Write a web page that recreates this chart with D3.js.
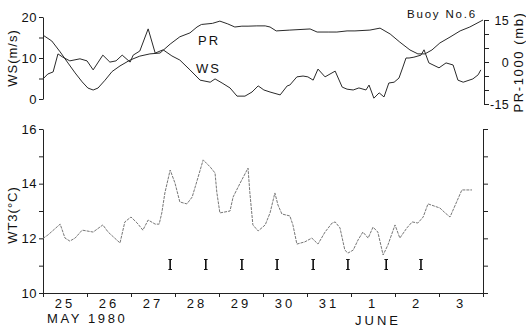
<!DOCTYPE html>
<html>
<head>
<meta charset="utf-8">
<script src="https://cdn.jsdelivr.net/npm/d3@7"></script>
<style>
  html, body { margin: 0; padding: 0; background: #fff; }
  svg { display: block; }
  text { font-family: "Liberation Sans", Arial, sans-serif; fill: #111; }
</style>
</head>
<body>
<svg id="chart" width="526" height="328"></svg>
<script>
// Time is measured in days from 25 May 1980, 00:00.
const dayLabels = ["25", "26", "27", "28", "29", "30", "31", "1", "2", "3"];
const dayTicks = [0, 1, 2, 3, 4, 5, 6, 7, 8, 9, 10];

// Wind speed WS (m/s)
const wsTime = [0, 0.11, 0.23, 0.34, 0.45, 0.61, 0.84, 1.0, 1.14, 1.36, 1.52, 1.66, 1.8, 1.98, 2.05, 2.2,
  2.39, 2.55, 2.73, 2.93, 3.11, 3.34, 3.57, 3.8, 3.91, 4.07, 4.25, 4.41, 4.59, 4.75, 4.89, 5.02, 5.16,
  5.39, 5.55, 5.61, 5.77, 5.91, 6.02, 6.14, 6.25, 6.41, 6.64, 6.8, 6.91, 7.05, 7.18, 7.34, 7.41, 7.52,
  7.64, 7.75, 7.86, 7.98, 8.09, 8.18, 8.25, 8.32, 8.43, 8.59, 8.66, 8.77, 9.0, 9.16, 9.32, 9.43, 9.55,
  9.77, 9.89, 9.95];
const wsValue = [4.9, 6.1, 6.6, 11.0, 10.2, 9.3, 9.8, 9.3, 7.1, 10.7, 9.0, 9.3, 10.7, 9.0, 10.7, 11.7,
  17.1, 11.2, 12.0, 10.5, 9.5, 7.1, 4.6, 4.1, 4.9, 3.9, 2.7, 0.7, 0.7, 1.7, 3.2, 2.2, 1.7,
  1.0, 3.2, 3.4, 5.4, 5.6, 5.4, 4.6, 7.3, 5.4, 6.8, 2.9, 2.4, 2.2, 2.7, 2.2, 3.4, 0.2,
  1.5, 0.5, 3.9, 4.1, 5.1, 7.8, 10.0, 10.0, 10.2, 10.7, 12.0, 8.8, 7.6, 8.8, 8.3, 4.6, 4.1,
  4.9, 5.9, 7.1];

// Sea level pressure minus 1000 mb
const prTime = [0, 0.2, 0.39, 0.57, 0.73, 0.89, 1.02, 1.14, 1.25, 1.41, 1.57, 1.75, 1.98, 2.2, 2.43,
  2.66, 2.89, 3.11, 3.34, 3.5, 3.6, 3.85, 4.02, 4.2, 4.36, 4.52, 4.66, 4.86, 5.05, 5.16, 5.3, 5.61,
  6.07, 6.23, 6.48, 6.68, 6.91, 7.09, 7.43, 7.66, 7.89, 8.11, 8.34, 8.52, 8.68, 8.84, 9.02, 9.25,
  9.48, 9.7, 10.0];
const prValue = [9.6, 7.5, 3.6, -0.4, -3.9, -7.1, -9.3, -10.0, -9.3, -6.5, -3.4, -1.4, 0.7, 2.1, 2.9,
  3.2, 6.4, 9.0, 10.4, 12.5, 13.4, 13.8, 14.6, 13.6, 12.5, 12.8, 12.8, 12.9, 12.9, 12.5, 11.1, 11.4,
  11.8, 10.7, 10.7, 10.7, 11.1, 11.1, 11.4, 12.1, 10.0, 7.1, 4.3, 2.9, 2.9, 4.3, 6.8, 8.9,
  11.1, 12.5, 15.0];

// Water temperature WT3 (°C)
const wt3Time = [0, 0.11, 0.39, 0.5, 0.61, 0.73, 0.89, 1.14, 1.36, 1.48, 1.75, 1.86, 2.0, 2.14, 2.27,
  2.39, 2.55, 2.64, 2.7, 2.77, 2.89, 3.0, 3.11, 3.27, 3.39, 3.52, 3.64, 3.8, 3.91, 3.95, 4.02, 4.25,
  4.32, 4.48, 4.66, 4.7, 4.77, 4.89, 5.05, 5.16, 5.27, 5.34, 5.43, 5.61, 5.68, 5.77, 5.95, 6.11,
  6.25, 6.41, 6.57, 6.64, 6.75, 6.86, 6.93, 7.05, 7.16, 7.27, 7.39, 7.5, 7.61, 7.73, 7.84, 8.0,
  8.11, 8.27, 8.39, 8.52, 8.64, 8.75, 9.02, 9.14, 9.25, 9.52, 9.75];
const wt3Value = [12.0, 12.12, 12.52, 12.01, 11.9, 12.01, 12.3, 12.23, 12.49, 12.23, 11.83, 12.6, 12.78,
  12.56, 12.3, 12.67, 12.52, 12.52, 12.93, 13.66, 14.5, 14.02, 13.33, 13.26, 13.51, 14.21, 14.87,
  14.61, 14.39, 13.69, 12.93, 13.0, 13.51, 14.02, 14.57, 13.69, 12.49, 12.27, 12.49, 12.93, 13.66,
  13.22, 12.89, 12.82, 12.49, 11.79, 11.87, 12.01, 11.79, 12.23, 12.56, 12.6, 12.38, 11.57, 11.46,
  11.57, 11.94, 12.23, 12.01, 12.41, 12.23, 11.39, 11.76, 12.49, 12.01, 12.38, 12.6, 12.56, 12.78,
  13.26, 13.11, 12.93, 12.78, 13.77, 13.77];

// Times of the event markers drawn under the WT3 trace
const markTimes = [2.89, 3.7, 4.52, 5.32, 6.14, 6.93, 7.8, 8.59];

const svg = d3.select("#chart");
const x = d3.scaleLinear().domain([0, 10]).range([43, 483]);

const wsY = d3.scaleLinear().domain([0, 20]).range([99, 17]);
const prY = d3.scaleLinear().domain([-15, 15]).range([104, 20]);
const wtY = d3.scaleLinear().domain([10, 16]).range([293, 129]);

function styleAxis(g) {
  g.selectAll("path.domain").attr("stroke", "#222").attr("stroke-width", 1);
  g.selectAll(".tick line").attr("stroke", "#222").attr("stroke-width", 1);
  g.selectAll(".tick text").remove();
}

// Upper panel axes
svg.append("g").attr("transform", "translate(43,0)")
  .call(d3.axisLeft(wsY).tickValues([0, 5, 10, 15, 20]).tickSizeInner(4).tickSizeOuter(0))
  .call(styleAxis);
svg.append("g").attr("transform", "translate(484,0)")
  .call(d3.axisRight(prY).tickValues([-15, -10, -5, 0, 5, 10, 15]).tickSizeInner(5).tickSizeOuter(0))
  .call(styleAxis);

svg.append("g").selectAll("text").data([0, 10, 20]).join("text")
  .attr("x", 37).attr("y", d => wsY(d) + 4.5)
  .attr("text-anchor", "end").attr("font-size", 13).attr("letter-spacing", 0.5)
  .text(d => d);
svg.append("g").selectAll("text").data([15, 0, -15]).join("text")
  .attr("x", 509).attr("y", d => prY(d) + 4.5)
  .attr("text-anchor", "end").attr("font-size", 12.5).attr("letter-spacing", 0.3)
  .text(d => d < 0 ? "-" + Math.abs(d) : d);

// Lower panel axes
svg.append("g").attr("transform", "translate(43,0)")
  .call(d3.axisLeft(wtY).tickValues([10, 11, 12, 13, 14, 15, 16]).tickSizeInner(4).tickSizeOuter(0))
  .call(styleAxis);
svg.append("g").attr("transform", "translate(483,0)")
  .call(d3.axisRight(wtY).tickValues([10, 11, 12, 13, 14, 15, 16]).tickSizeInner(5).tickSizeOuter(0))
  .call(styleAxis);
svg.append("g").attr("transform", "translate(0,293)")
  .call(d3.axisBottom(x).tickValues(dayTicks).tickSizeInner(4).tickSizeOuter(0))
  .call(styleAxis);

svg.append("g").selectAll("text").data([10, 12, 14, 16]).join("text")
  .attr("x", 37).attr("y", d => wtY(d) + 4.5)
  .attr("text-anchor", "end").attr("font-size", 13).attr("letter-spacing", 0.5)
  .text(d => d);

// Day labels centred on each day
svg.append("g").selectAll("text").data(dayLabels).join("text")
  .attr("x", (d, i) => x(i + 0.5)).attr("y", 308)
  .attr("text-anchor", "middle").attr("font-size", 13).attr("letter-spacing", 3)
  .text(d => d);
svg.append("text").attr("x", 47).attr("y", 323)
  .attr("font-size", 13).attr("letter-spacing", 2.6).text("MAY 1980");
svg.append("text").attr("x", 355).attr("y", 325)
  .attr("font-size", 13).attr("letter-spacing", 3).text("JUNE");

// Axis titles
svg.append("text").attr("transform", "translate(17,58) rotate(-90)")
  .attr("text-anchor", "middle").attr("font-size", 13).attr("letter-spacing", 1).text("WS(m/s)");
svg.append("text").attr("transform", "translate(523,62) rotate(-90)")
  .attr("text-anchor", "middle").attr("font-size", 13).attr("letter-spacing", 1.6).text("PR-1000 (mb)");
svg.append("text").attr("transform", "translate(17,215) rotate(-90)")
  .attr("text-anchor", "middle").attr("font-size", 13).attr("letter-spacing", 1).text("WT3(°C)");

// Series lines
const wsLine = d3.line().x((d, i) => x(wsTime[i])).y(d => wsY(d));
const prLine = d3.line().x((d, i) => x(prTime[i])).y(d => prY(d));
const wtLine = d3.line().x((d, i) => x(wt3Time[i])).y(d => wtY(d));

svg.append("path").attr("d", prLine(prValue))
  .attr("fill", "none").attr("stroke", "#2a2a2a").attr("stroke-width", 1);
svg.append("path").attr("d", wsLine(wsValue))
  .attr("fill", "none").attr("stroke", "#2a2a2a").attr("stroke-width", 1);
svg.append("path").attr("d", wtLine(wt3Value))
  .attr("fill", "none").attr("stroke", "#777").attr("stroke-width", 1)
  .attr("stroke-dasharray", "3,1");

// Series labels
svg.append("text").attr("x", 198).attr("y", 45).attr("font-size", 13).attr("letter-spacing", 2).text("PR");
svg.append("text").attr("x", 196).attr("y", 73).attr("font-size", 13).attr("letter-spacing", 2).text("WS");
svg.append("text").attr("x", 407).attr("y", 18).attr("font-size", 11.5).attr("letter-spacing", 1.8).text("Buoy No.6");

// Event markers
const marks = svg.append("g").selectAll("g").data(markTimes).join("g")
  .attr("transform", d => `translate(${x(d)},0)`);
marks.append("line").attr("x1", 0).attr("x2", 0).attr("y1", 259).attr("y2", 270)
  .attr("stroke", "#111").attr("stroke-width", 1.6);
marks.append("line").attr("x1", -1.8).attr("x2", 1.8).attr("y1", 259.5).attr("y2", 259.5)
  .attr("stroke", "#111").attr("stroke-width", 1);
marks.append("line").attr("x1", -1.8).attr("x2", 1.8).attr("y1", 269.5).attr("y2", 269.5)
  .attr("stroke", "#111").attr("stroke-width", 1);
</script>
</body>
</html>
